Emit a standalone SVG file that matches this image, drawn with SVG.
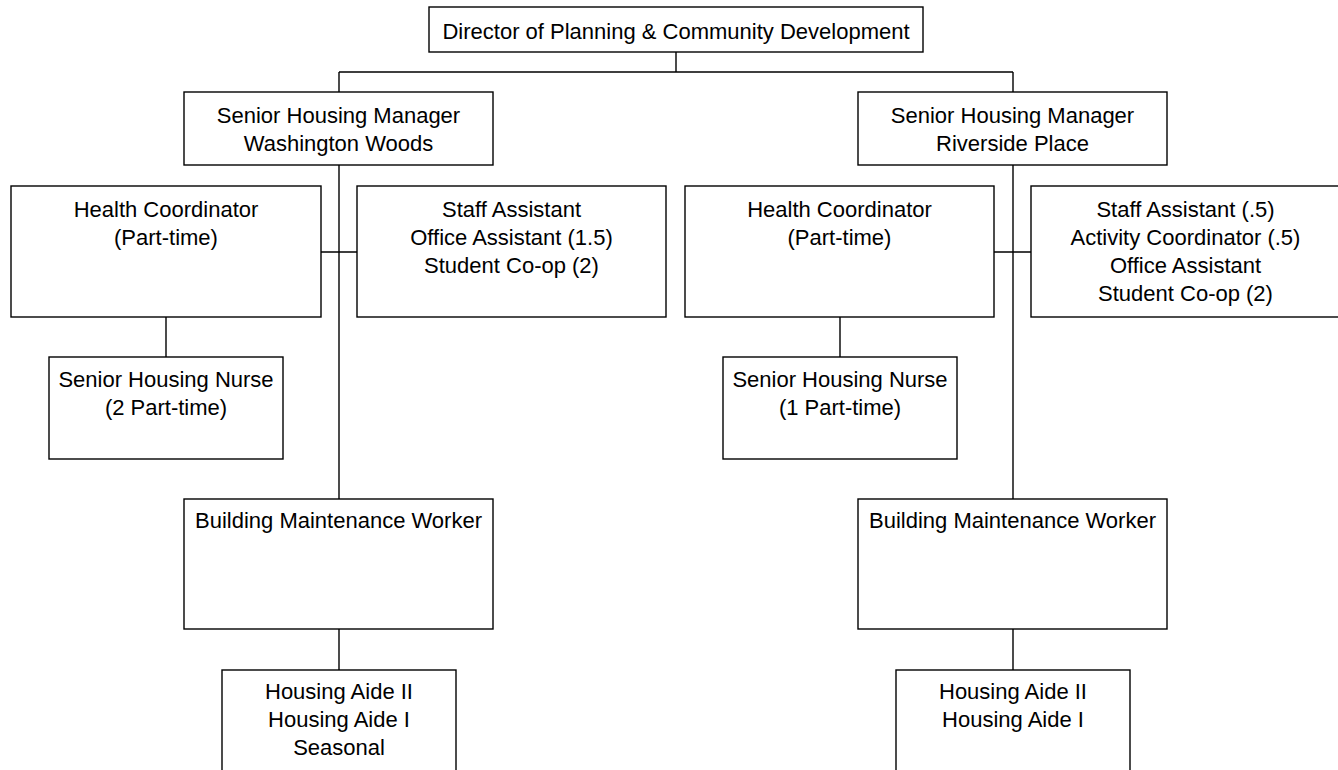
<svg xmlns="http://www.w3.org/2000/svg" width="1338" height="770" viewBox="0 0 1338 770">
<style>
.box{fill:#fff;stroke:#000;stroke-width:1.4}
.ln{fill:none;stroke:#000;stroke-width:1.4}
text{font-family:"Liberation Sans",Arial,sans-serif;font-size:22px;fill:#000;text-anchor:middle}
</style>
<rect width="1338" height="770" fill="#fff"/>
<g id="connectors">
<path class="ln" d="M676 52V72M339 72H1013M339 72V92M1013 72V92"/>
<path class="ln" d="M339 165V499M321 252H357M166 317V357M339 629V670"/>
<path class="ln" d="M1013 165V499M994 252H1031M840 317V357M1013 629V670"/>
</g>
<g id="director">
<rect class="box" x="429" y="7" width="494" height="45"/>
<text x="676" y="39">Director of Planning &amp; Community Development</text>
</g>
<g id="mgr-ww">
<rect class="box" x="184" y="92" width="309" height="73"/>
<text x="338.5" y="123">Senior Housing Manager</text>
<text x="338.5" y="151">Washington Woods</text>
</g>
<g id="mgr-rp">
<rect class="box" x="858" y="92" width="309" height="73"/>
<text x="1012.5" y="123">Senior Housing Manager</text>
<text x="1012.5" y="151">Riverside Place</text>
</g>
<g id="hc-ww">
<rect class="box" x="11" y="186" width="310" height="131"/>
<text x="166" y="217">Health Coordinator</text>
<text x="166" y="245">(Part-time)</text>
</g>
<g id="staff-ww">
<rect class="box" x="357" y="186" width="309" height="131"/>
<text x="511.5" y="217">Staff Assistant</text>
<text x="511.5" y="245">Office Assistant (1.5)</text>
<text x="511.5" y="273">Student Co-op (2)</text>
</g>
<g id="hc-rp">
<rect class="box" x="685" y="186" width="309" height="131"/>
<text x="839.5" y="217">Health Coordinator</text>
<text x="839.5" y="245">(Part-time)</text>
</g>
<g id="staff-rp">
<rect class="box" x="1031" y="186" width="309" height="131"/>
<text x="1185.5" y="217">Staff Assistant (.5)</text>
<text x="1185.5" y="245">Activity Coordinator (.5)</text>
<text x="1185.5" y="273">Office Assistant</text>
<text x="1185.5" y="301">Student Co-op (2)</text>
</g>
<g id="nurse-ww">
<rect class="box" x="49" y="357" width="234" height="102"/>
<text x="166" y="387">Senior Housing Nurse</text>
<text x="166" y="415">(2 Part-time)</text>
</g>
<g id="nurse-rp">
<rect class="box" x="723" y="357" width="234" height="102"/>
<text x="840" y="387">Senior Housing Nurse</text>
<text x="840" y="415">(1 Part-time)</text>
</g>
<g id="bmw-ww">
<rect class="box" x="184" y="499" width="309" height="130"/>
<text x="338.5" y="528">Building Maintenance Worker</text>
</g>
<g id="bmw-rp">
<rect class="box" x="858" y="499" width="309" height="130"/>
<text x="1012.5" y="528">Building Maintenance Worker</text>
</g>
<g id="aide-ww">
<rect class="box" x="222" y="670" width="234" height="120"/>
<text x="339" y="699">Housing Aide II</text>
<text x="339" y="727">Housing Aide I</text>
<text x="339" y="755">Seasonal</text>
</g>
<g id="aide-rp">
<rect class="box" x="896" y="670" width="234" height="120"/>
<text x="1013" y="699">Housing Aide II</text>
<text x="1013" y="727">Housing Aide I</text>
</g>
</svg>
